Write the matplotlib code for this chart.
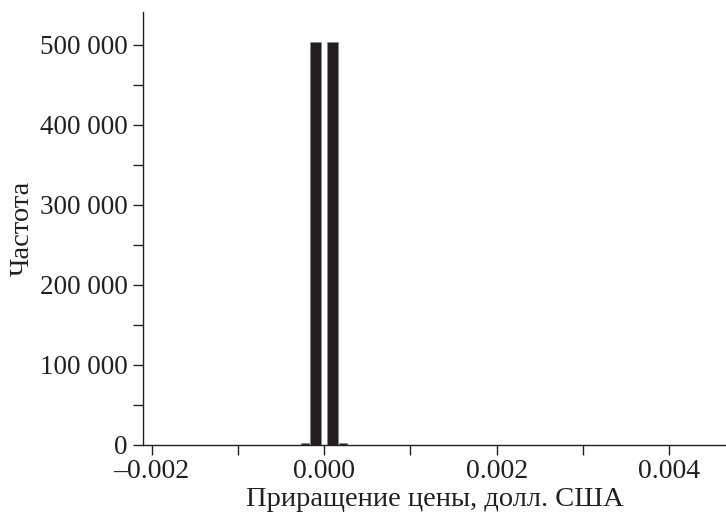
import matplotlib.pyplot as plt
from matplotlib.ticker import FuncFormatter, MultipleLocator

# histogram of price increments
bin_centers = [-0.00022, -0.0001, 0.0001, 0.00022]
counts = [3000, 503000, 503000, 3000]
bar_widths = [0.0001, 0.00013, 0.00013, 0.0001]

x_ticks = [-0.002, 0.000, 0.002, 0.004]
x_labels = ['\u20130.002', '0.000', '0.002', '0.004']
y_ticks = [0, 100000, 200000, 300000, 400000, 500000]

plt.rcParams['font.family'] = ['Liberation Serif', 'DejaVu Serif']

fig = plt.figure(figsize=(7.26, 5.15), dpi=100)
ax = fig.add_axes([0.197, 0.136, 0.803, 0.841])

ax.bar(bin_centers, counts, width=bar_widths, color='#231f20',
       edgecolor='#8a8a8a', linewidth=0.6, zorder=2)

ax.set_xlim(-0.0021, 0.00466)
ax.set_ylim(0, 541000)

ax.set_xticks(x_ticks)
ax.set_xticklabels(x_labels)
ax.xaxis.set_minor_locator(MultipleLocator(0.001))
ax.set_yticks(y_ticks)
ax.yaxis.set_minor_locator(MultipleLocator(50000))
ax.yaxis.set_major_formatter(FuncFormatter(lambda v, p: f'{int(v):,}'.replace(',', ' ')))

ax.spines['top'].set_visible(False)
ax.spines['right'].set_visible(False)
for s in ['left', 'bottom']:
    ax.spines[s].set_linewidth(1.0)
    ax.spines[s].set_color('#231f20')

ax.tick_params(axis='both', which='both', direction='out', length=7, width=1,
               colors='#231f20')
ax.tick_params(axis='y', which='major', labelsize=19.5, pad=4)
ax.tick_params(axis='x', which='major', labelsize=20, pad=3)

ax.set_xlabel('Приращение цены, долл. США', fontsize=20.5, color='#231f20', labelpad=2)
ax.set_ylabel('Частота', fontsize=20.5, color='#231f20', labelpad=3.5)

fig.savefig('out.png', dpi=100)
